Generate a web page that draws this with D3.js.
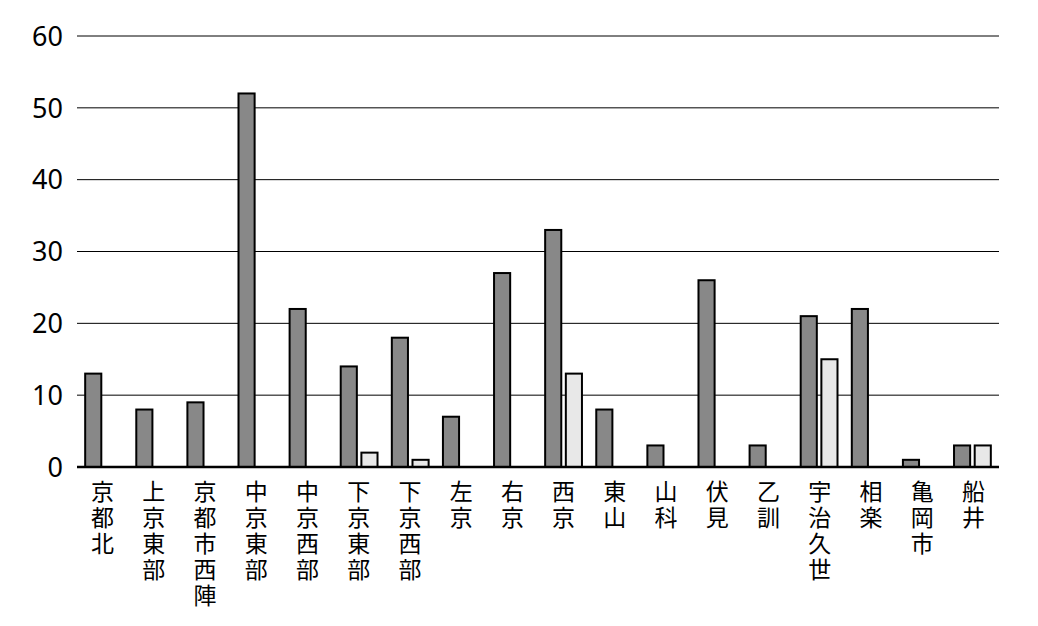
<!DOCTYPE html>
<html><head><meta charset="utf-8">
<script src="https://cdn.jsdelivr.net/npm/d3@7"></script>
<style>body{margin:0;background:#fff}svg{display:block}</style>
</head><body>
<svg id="c" width="1038" height="626"></svg>
<script>
const categories = ["京都北","上京東部","京都市西陣","中京東部","中京西部","下京東部","下京西部","左京","右京","西京","東山","山科","伏見","乙訓","宇治久世","相楽","亀岡市","船井"];
const series1 = [13,8,9,52,22,14,18,7,27,33,8,3,26,3,21,22,1,3];
const series2 = [0,0,0,0,0,2,1,0,0,13,0,0,0,0,15,0,0,3];
const yTicks = [0,10,20,30,40,50,60];
const seriesKeys = ["s1","s2"];
const seriesColors = ["#888888","#e8e8e8"];

(function(){
const svg = d3.select("#c");
const mLeft = 77, mRight = 999, mTop = 36, mBottom = 467;
const y = d3.scaleLinear().domain([0,60]).range([mBottom, mTop]);
const x0 = d3.scaleBand().domain(categories).range([mLeft, mRight]).paddingInner(0.28).paddingOuter(0.16);
const x1 = d3.scaleBand().domain(seriesKeys).range([0, x0.bandwidth()]).paddingInner(0.22);

const font = "'Noto Sans CJK JP','Noto Sans',sans-serif";

svg.append("g").selectAll("line").data(yTicks.filter(t=>t>0)).join("line")
  .attr("x1", mLeft).attr("x2", mRight)
  .attr("y1", d=>y(d)).attr("y2", d=>y(d))
  .attr("stroke","#000").attr("stroke-width",1);

svg.append("g").selectAll("text").data(yTicks).join("text")
  .attr("x", 63).attr("y", d=>y(d)).attr("dy","0.36em")
  .attr("text-anchor","end")
  .attr("font-family", "'Noto Sans','Open Sans',sans-serif").attr("font-size", 27)
  .attr("fill","#000").text(d=>d);

const data = categories.map((c,i)=>({c, vals:[series1[i], series2[i]]}));
const g = svg.append("g").selectAll("g").data(data).join("g")
  .attr("transform", d=>`translate(${x0(d.c)},0)`);
g.selectAll("rect").data(d=>d.vals.map((v,k)=>({v,k})).filter(e=>e.v>0)).join("rect")
  .attr("x", e=>x1(seriesKeys[e.k]))
  .attr("width", x1.bandwidth())
  .attr("y", e=>y(e.v))
  .attr("height", e=>y(0)-y(e.v))
  .attr("fill", e=>seriesColors[e.k])
  .attr("stroke","#000").attr("stroke-width",2);

svg.append("line").attr("x1",mLeft).attr("x2",mRight)
  .attr("y1",y(0)).attr("y2",y(0)).attr("stroke","#000").attr("stroke-width",2.5);

const xb = d3.scaleBand().domain(categories).range([mLeft,mRight]);
svg.append("g").selectAll("text").data(categories).join("text")
  .attr("font-family", font).attr("font-size", 23).attr("fill","#000")
  .attr("writing-mode","vertical-rl")
  .attr("letter-spacing", 3)
  .attr("text-anchor","start")
  .attr("x", c=>xb(c) + xb.bandwidth()/2)
  .attr("y", 480)
  .text(c=>c);
})();
</script>
</body></html>
